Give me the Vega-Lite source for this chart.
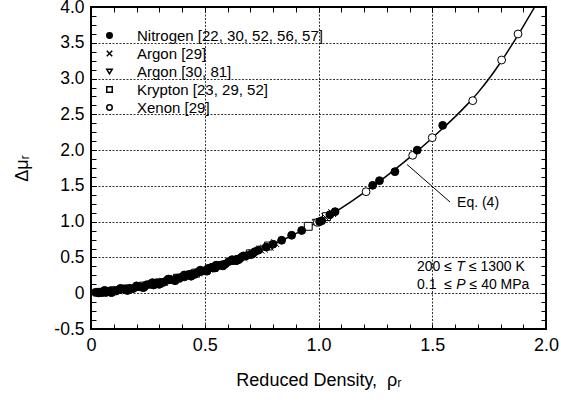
{
  "$schema": "https://vega.github.io/schema/vega-lite/v6.json",
  "autosize": "none",
  "width": 455,
  "height": 322,
  "padding": {"left": 91, "top": 7, "right": 15, "bottom": 74},
  "background": "white",
  "config": {
    "view": {"stroke": "black", "strokeWidth": 2},
    "font": "Liberation Sans",
    "axis": {"labelFont": "Liberation Sans", "titleFont": "Liberation Sans", "labelColor": "black", "titleColor": "black", "titleFontWeight": "normal"}
  },
  "datasets": {
    "curve": [
      {"x": 0, "y": 0}, {"x": 0.05, "y": 0.014}, {"x": 0.1, "y": 0.032}, {"x": 0.15, "y": 0.054}, {"x": 0.2, "y": 0.08},
      {"x": 0.25, "y": 0.11}, {"x": 0.3, "y": 0.144}, {"x": 0.35, "y": 0.182}, {"x": 0.4, "y": 0.224}, {"x": 0.45, "y": 0.27},
      {"x": 0.5, "y": 0.32}, {"x": 0.55, "y": 0.37}, {"x": 0.6, "y": 0.424}, {"x": 0.65, "y": 0.482}, {"x": 0.7, "y": 0.544},
      {"x": 0.75, "y": 0.61}, {"x": 0.8, "y": 0.68}, {"x": 0.85, "y": 0.754}, {"x": 0.9, "y": 0.832}, {"x": 0.95, "y": 0.914},
      {"x": 1.0, "y": 1.0}, {"x": 1.05, "y": 1.092}, {"x": 1.1, "y": 1.19}, {"x": 1.15, "y": 1.295}, {"x": 1.2, "y": 1.405},
      {"x": 1.25, "y": 1.52}, {"x": 1.3, "y": 1.64}, {"x": 1.35, "y": 1.765}, {"x": 1.4, "y": 1.895}, {"x": 1.45, "y": 2.03},
      {"x": 1.5, "y": 2.17}, {"x": 1.55, "y": 2.315}, {"x": 1.6, "y": 2.465}, {"x": 1.65, "y": 2.625}, {"x": 1.7, "y": 2.8},
      {"x": 1.75, "y": 3.0}, {"x": 1.8, "y": 3.225}, {"x": 1.85, "y": 3.47}, {"x": 1.9, "y": 3.73}, {"x": 1.95, "y": 4.0},
      {"x": 2.0, "y": 4.29}
    ],
    "points": [
      {"s": "Krypton [23, 29, 52]", "x": 0.04, "y": 0.012}, {"s": "Krypton [23, 29, 52]", "x": 0.1, "y": 0.035},
      {"s": "Krypton [23, 29, 52]", "x": 0.16, "y": 0.06}, {"s": "Krypton [23, 29, 52]", "x": 0.23, "y": 0.1},
      {"s": "Krypton [23, 29, 52]", "x": 0.3, "y": 0.145}, {"s": "Krypton [23, 29, 52]", "x": 0.38, "y": 0.21},
      {"s": "Krypton [23, 29, 52]", "x": 0.46, "y": 0.28}, {"s": "Krypton [23, 29, 52]", "x": 0.54, "y": 0.36},
      {"s": "Krypton [23, 29, 52]", "x": 0.63, "y": 0.46}, {"s": "Krypton [23, 29, 52]", "x": 0.7, "y": 0.55},
      {"s": "Krypton [23, 29, 52]", "x": 0.78, "y": 0.66}, {"s": "Krypton [23, 29, 52]", "x": 0.955, "y": 0.935},
      {"s": "Krypton [23, 29, 52]", "x": 1.035, "y": 1.07},
      {"s": "Argon [30, 81]", "x": 0.05, "y": 0.02}, {"s": "Argon [30, 81]", "x": 0.15, "y": 0.058},
      {"s": "Argon [30, 81]", "x": 0.25, "y": 0.112}, {"s": "Argon [30, 81]", "x": 0.35, "y": 0.186},
      {"s": "Argon [30, 81]", "x": 0.45, "y": 0.27}, {"s": "Argon [30, 81]", "x": 0.55, "y": 0.372},
      {"s": "Argon [30, 81]", "x": 0.65, "y": 0.48}, {"s": "Argon [30, 81]", "x": 0.75, "y": 0.61},
      {"s": "Argon [30, 81]", "x": 0.99, "y": 0.985},
      {"s": "Argon [29]", "x": 0.03, "y": 0.008}, {"s": "Argon [29]", "x": 0.07, "y": 0.02}, {"s": "Argon [29]", "x": 0.12, "y": 0.04},
      {"s": "Argon [29]", "x": 0.17, "y": 0.066}, {"s": "Argon [29]", "x": 0.22, "y": 0.09}, {"s": "Argon [29]", "x": 0.27, "y": 0.125},
      {"s": "Argon [29]", "x": 0.32, "y": 0.16}, {"s": "Argon [29]", "x": 0.37, "y": 0.198}, {"s": "Argon [29]", "x": 0.42, "y": 0.244},
      {"s": "Argon [29]", "x": 0.47, "y": 0.29}, {"s": "Argon [29]", "x": 0.52, "y": 0.34}, {"s": "Argon [29]", "x": 0.57, "y": 0.393},
      {"s": "Argon [29]", "x": 0.62, "y": 0.448}, {"s": "Argon [29]", "x": 0.67, "y": 0.505}, {"s": "Argon [29]", "x": 0.71, "y": 0.56},
      {"s": "Argon [29]", "x": 0.745, "y": 0.61}, {"s": "Argon [29]", "x": 0.76, "y": 0.625}, {"s": "Argon [29]", "x": 0.785, "y": 0.65},
      {"s": "Argon [29]", "x": 0.81, "y": 0.7}, {"s": "Argon [29]", "x": 1.03, "y": 1.06}, {"s": "Argon [29]", "x": 1.06, "y": 1.12},
      {"s": "Xenon [29]", "x": 0.995, "y": 0.99}, {"s": "Xenon [29]", "x": 1.209, "y": 1.419}, {"s": "Xenon [29]", "x": 1.414, "y": 1.927},
      {"s": "Xenon [29]", "x": 1.5, "y": 2.174}, {"s": "Xenon [29]", "x": 1.678, "y": 2.691}, {"s": "Xenon [29]", "x": 1.805, "y": 3.259},
      {"s": "Xenon [29]", "x": 1.877, "y": 3.623},
      {"s": "Nitrogen [22, 30, 52, 56, 57]", "x": 0.06, "y": 0.04}, {"s": "Nitrogen [22, 30, 52, 56, 57]", "x": 0.13, "y": 0.068},
      {"s": "Nitrogen [22, 30, 52, 56, 57]", "x": 0.2, "y": 0.103}, {"s": "Nitrogen [22, 30, 52, 56, 57]", "x": 0.27, "y": 0.148},
      {"s": "Nitrogen [22, 30, 52, 56, 57]", "x": 0.34, "y": 0.198}, {"s": "Nitrogen [22, 30, 52, 56, 57]", "x": 0.41, "y": 0.255},
      {"s": "Nitrogen [22, 30, 52, 56, 57]", "x": 0.48, "y": 0.322}, {"s": "Nitrogen [22, 30, 52, 56, 57]", "x": 0.55, "y": 0.392},
      {"s": "Nitrogen [22, 30, 52, 56, 57]", "x": 0.62, "y": 0.468}, {"s": "Nitrogen [22, 30, 52, 56, 57]", "x": 0.67, "y": 0.522},
      {"s": "Nitrogen [22, 30, 52, 56, 57]", "x": 0.09, "y": 0.008}, {"s": "Nitrogen [22, 30, 52, 56, 57]", "x": 0.16, "y": 0.038},
      {"s": "Nitrogen [22, 30, 52, 56, 57]", "x": 0.23, "y": 0.078}, {"s": "Nitrogen [22, 30, 52, 56, 57]", "x": 0.3, "y": 0.124},
      {"s": "Nitrogen [22, 30, 52, 56, 57]", "x": 0.37, "y": 0.175}, {"s": "Nitrogen [22, 30, 52, 56, 57]", "x": 0.44, "y": 0.238},
      {"s": "Nitrogen [22, 30, 52, 56, 57]", "x": 0.51, "y": 0.308}, {"s": "Nitrogen [22, 30, 52, 56, 57]", "x": 0.58, "y": 0.382},
      {"s": "Nitrogen [22, 30, 52, 56, 57]", "x": 0.65, "y": 0.47}, {"s": "Nitrogen [22, 30, 52, 56, 57]", "x": 0.71, "y": 0.55},
      {"s": "Nitrogen [22, 30, 52, 56, 57]", "x": 0.02, "y": 0.012}, {"s": "Nitrogen [22, 30, 52, 56, 57]", "x": 0.035, "y": 0.004},
      {"s": "Nitrogen [22, 30, 52, 56, 57]", "x": 0.05, "y": 0.018}, {"s": "Nitrogen [22, 30, 52, 56, 57]", "x": 0.065, "y": 0.01},
      {"s": "Nitrogen [22, 30, 52, 56, 57]", "x": 0.08, "y": 0.03}, {"s": "Nitrogen [22, 30, 52, 56, 57]", "x": 0.095, "y": 0.028},
      {"s": "Nitrogen [22, 30, 52, 56, 57]", "x": 0.11, "y": 0.032}, {"s": "Nitrogen [22, 30, 52, 56, 57]", "x": 0.125, "y": 0.053},
      {"s": "Nitrogen [22, 30, 52, 56, 57]", "x": 0.14, "y": 0.058}, {"s": "Nitrogen [22, 30, 52, 56, 57]", "x": 0.155, "y": 0.049},
      {"s": "Nitrogen [22, 30, 52, 56, 57]", "x": 0.17, "y": 0.068}, {"s": "Nitrogen [22, 30, 52, 56, 57]", "x": 0.185, "y": 0.065},
      {"s": "Nitrogen [22, 30, 52, 56, 57]", "x": 0.2, "y": 0.088}, {"s": "Nitrogen [22, 30, 52, 56, 57]", "x": 0.215, "y": 0.089},
      {"s": "Nitrogen [22, 30, 52, 56, 57]", "x": 0.23, "y": 0.093}, {"s": "Nitrogen [22, 30, 52, 56, 57]", "x": 0.245, "y": 0.119},
      {"s": "Nitrogen [22, 30, 52, 56, 57]", "x": 0.26, "y": 0.124}, {"s": "Nitrogen [22, 30, 52, 56, 57]", "x": 0.275, "y": 0.115},
      {"s": "Nitrogen [22, 30, 52, 56, 57]", "x": 0.29, "y": 0.141}, {"s": "Nitrogen [22, 30, 52, 56, 57]", "x": 0.305, "y": 0.148},
      {"s": "Nitrogen [22, 30, 52, 56, 57]", "x": 0.32, "y": 0.154}, {"s": "Nitrogen [22, 30, 52, 56, 57]", "x": 0.335, "y": 0.182},
      {"s": "Nitrogen [22, 30, 52, 56, 57]", "x": 0.35, "y": 0.19}, {"s": "Nitrogen [22, 30, 52, 56, 57]", "x": 0.365, "y": 0.183},
      {"s": "Nitrogen [22, 30, 52, 56, 57]", "x": 0.38, "y": 0.211}, {"s": "Nitrogen [22, 30, 52, 56, 57]", "x": 0.395, "y": 0.22},
      {"s": "Nitrogen [22, 30, 52, 56, 57]", "x": 0.41, "y": 0.228}, {"s": "Nitrogen [22, 30, 52, 56, 57]", "x": 0.425, "y": 0.259},
      {"s": "Nitrogen [22, 30, 52, 56, 57]", "x": 0.44, "y": 0.269}, {"s": "Nitrogen [22, 30, 52, 56, 57]", "x": 0.455, "y": 0.263},
      {"s": "Nitrogen [22, 30, 52, 56, 57]", "x": 0.47, "y": 0.294}, {"s": "Nitrogen [22, 30, 52, 56, 57]", "x": 0.485, "y": 0.305},
      {"s": "Nitrogen [22, 30, 52, 56, 57]", "x": 0.5, "y": 0.315}, {"s": "Nitrogen [22, 30, 52, 56, 57]", "x": 0.515, "y": 0.347},
      {"s": "Nitrogen [22, 30, 52, 56, 57]", "x": 0.53, "y": 0.358}, {"s": "Nitrogen [22, 30, 52, 56, 57]", "x": 0.545, "y": 0.353},
      {"s": "Nitrogen [22, 30, 52, 56, 57]", "x": 0.56, "y": 0.385}, {"s": "Nitrogen [22, 30, 52, 56, 57]", "x": 0.575, "y": 0.397},
      {"s": "Nitrogen [22, 30, 52, 56, 57]", "x": 0.59, "y": 0.408}, {"s": "Nitrogen [22, 30, 52, 56, 57]", "x": 0.605, "y": 0.442},
      {"s": "Nitrogen [22, 30, 52, 56, 57]", "x": 0.62, "y": 0.455}, {"s": "Nitrogen [22, 30, 52, 56, 57]", "x": 0.64, "y": 0.458},
      {"s": "Nitrogen [22, 30, 52, 56, 57]", "x": 0.66, "y": 0.499}, {"s": "Nitrogen [22, 30, 52, 56, 57]", "x": 0.68, "y": 0.519},
      {"s": "Nitrogen [22, 30, 52, 56, 57]", "x": 0.7, "y": 0.539}, {"s": "Nitrogen [22, 30, 52, 56, 57]", "x": 0.72, "y": 0.58},
      {"s": "Nitrogen [22, 30, 52, 56, 57]", "x": 0.735, "y": 0.6}, {"s": "Nitrogen [22, 30, 52, 56, 57]", "x": 0.77, "y": 0.645},
      {"s": "Nitrogen [22, 30, 52, 56, 57]", "x": 0.8, "y": 0.685}, {"s": "Nitrogen [22, 30, 52, 56, 57]", "x": 0.838, "y": 0.74},
      {"s": "Nitrogen [22, 30, 52, 56, 57]", "x": 0.882, "y": 0.81}, {"s": "Nitrogen [22, 30, 52, 56, 57]", "x": 0.926, "y": 0.877},
      {"s": "Nitrogen [22, 30, 52, 56, 57]", "x": 1.005, "y": 1.0}, {"s": "Nitrogen [22, 30, 52, 56, 57]", "x": 1.014, "y": 1.012},
      {"s": "Nitrogen [22, 30, 52, 56, 57]", "x": 1.05, "y": 1.097}, {"s": "Nitrogen [22, 30, 52, 56, 57]", "x": 1.073, "y": 1.14},
      {"s": "Nitrogen [22, 30, 52, 56, 57]", "x": 1.238, "y": 1.508}, {"s": "Nitrogen [22, 30, 52, 56, 57]", "x": 1.268, "y": 1.573},
      {"s": "Nitrogen [22, 30, 52, 56, 57]", "x": 1.336, "y": 1.699}, {"s": "Nitrogen [22, 30, 52, 56, 57]", "x": 1.434, "y": 2.0},
      {"s": "Nitrogen [22, 30, 52, 56, 57]", "x": 1.546, "y": 2.346}
    ],
    "leader": [{"x": 1.389, "y": 1.8, "x2": 1.578, "y2": 1.275}],
    "regular": [
      {"x": 1.609, "y": 1.26, "t": "Eq. (4)"},
      {"x": 1.433, "y": 0.36, "t": "200 ≤"},
      {"x": 1.661, "y": 0.36, "t": "≤ 1300 K"},
      {"x": 1.433, "y": 0.12, "t": "0.1"},
      {"x": 1.553, "y": 0.12, "t": "≤"},
      {"x": 1.664, "y": 0.12, "t": "≤ 40 MPa"}
    ],
    "italic": [
      {"x": 1.606, "y": 0.36, "t": "T"},
      {"x": 1.606, "y": 0.12, "t": "P"}
    ]
  },
  "resolve": {"axis": {"x": "independent", "y": "independent"}},
  "layer": [
    {
      "data": {"name": "curve"},
      "mark": {"type": "line", "color": "black", "strokeWidth": 1.5, "clip": true, "interpolate": "monotone"},
      "encoding": {
        "x": {"field": "x", "type": "quantitative",
          "scale": {"domain": [0, 2], "nice": false, "zero": false},
          "axis": {
            "orient": "bottom",
            "values": [0, 0.5, 1, 1.5, 2],
            "labelExpr": "datum.value === 0 ? '0' : format(datum.value, '.1f')",
            "labelFontSize": 18, "labelOverlap": false, "labelFlush": false, "labelPadding": 12,
            "tickSize": -5, "tickColor": "black", "tickWidth": 1,
            "domain": false,
            "grid": true, "gridColor": "black", "gridDash": [2, 1.5], "gridWidth": 0.8,
            "title": "Reduced Density,\u00a0 ρᵣ", "titleFontSize": 18, "titlePadding": 17
          }
        },
        "y": {"field": "y", "type": "quantitative",
          "scale": {"domain": [-0.5, 4], "nice": false, "zero": false},
          "axis": {
            "orient": "left",
            "values": [-0.5, 0, 0.5, 1, 1.5, 2, 2.5, 3, 3.5, 4],
            "labelExpr": "datum.value === 0 ? '0' : (datum.value < 0 ? '-0.5' : format(datum.value, '.1f'))",
            "labelFontSize": 17.5, "labelOverlap": false, "labelFlush": false, "labelPadding": 12,
            "tickSize": -5, "tickColor": "black", "tickWidth": 1,
            "domain": false,
            "grid": true, "gridColor": "black", "gridDash": [2, 1.5], "gridWidth": 0.8,
            "title": "Δμᵣ", "titleFontSize": 18, "titlePadding": 22
          }
        }
      }
    },
    {
      "data": {"name": "points"},
      "mark": {"type": "point", "size": 62, "strokeWidth": 1, "opacity": 1},
      "encoding": {
        "x": {"field": "x", "type": "quantitative",
          "axis": {
            "orient": "top",
            "values": [0,0.1,0.2,0.3,0.4,0.5,0.6,0.7,0.8,0.9,1,1.1,1.2,1.3,1.4,1.5,1.6,1.7,1.8,1.9,2],
            "labels": false, "tickSize": -5, "tickColor": "black", "tickWidth": 1, "domain": false, "grid": false, "title": null
          }
        },
        "y": {"field": "y", "type": "quantitative",
          "axis": {
            "orient": "right",
            "values": [-0.5,-0.375,-0.25,-0.125,0,0.125,0.25,0.375,0.5,0.625,0.75,0.875,1,1.125,1.25,1.375,1.5,1.625,1.75,1.875,2,2.125,2.25,2.375,2.5,2.625,2.75,2.875,3,3.125,3.25,3.375,3.5,3.625,3.75,3.875,4],
            "labels": false, "tickSize": -5, "tickColor": "black", "tickWidth": 1, "domain": false, "grid": false, "title": null
          }
        },
        "shape": {"field": "s", "type": "nominal",
          "scale": {"domain": ["Nitrogen [22, 30, 52, 56, 57]", "Argon [29]", "Argon [30, 81]", "Krypton [23, 29, 52]", "Xenon [29]"],
                    "range": ["circle", "M-1,-1L1,1M-1,1L1,-1", "triangle-down", "square", "circle"]},
          "legend": {"orient": "none", "legendX": 11, "legendY": 21, "title": null, "labelFontSize": 15, "labelColor": "black", "labelFont": "Liberation Sans",
                     "symbolSize": 30, "labelOffset": 20, "rowPadding": 2, "padding": 0, "labelLimit": 0,
                     "encode": {"symbols": {"update": {
                       "fill": {"signal": "datum.value === 'Nitrogen [22, 30, 52, 56, 57]' ? 'black' : 'white'"},
                       "stroke": {"value": "black"}, "strokeWidth": {"value": 1}, "opacity": {"value": 1}, "fillOpacity": {"value": 1}, "strokeOpacity": {"value": 1}}}}}
        },
        "fill": {"field": "s", "type": "nominal",
          "scale": {"domain": ["Nitrogen [22, 30, 52, 56, 57]", "Argon [29]", "Argon [30, 81]", "Krypton [23, 29, 52]", "Xenon [29]"],
                    "range": ["black", "transparent", "white", "white", "white"]},
          "legend": null
        },
        "stroke": {"value": "black"}
      }
    },
    {
      "data": {"name": "leader"},
      "mark": {"type": "rule", "color": "black", "strokeWidth": 1},
      "encoding": {
        "x": {"field": "x", "type": "quantitative",
          "axis": {
            "orient": "bottom",
            "values": [0.1,0.2,0.3,0.4,0.6,0.7,0.8,0.9,1.1,1.2,1.3,1.4,1.6,1.7,1.8,1.9],
            "labels": false, "tickSize": -5, "tickColor": "black", "tickWidth": 1, "domain": false, "grid": false, "title": null
          }
        },
        "y": {"field": "y", "type": "quantitative",
          "axis": {
            "orient": "left",
            "values": [-0.375,-0.25,-0.125,0.125,0.25,0.375,0.625,0.75,0.875,1.125,1.25,1.375,1.625,1.75,1.875,2.125,2.25,2.375,2.625,2.75,2.875,3.125,3.25,3.375,3.625,3.75,3.875],
            "labels": false, "tickSize": -5, "tickColor": "black", "tickWidth": 1, "domain": false, "grid": false, "title": null
          }
        },
        "x2": {"field": "x2"},
        "y2": {"field": "y2"}
      }
    },
    {
      "data": {"name": "regular"},
      "mark": {"type": "text", "align": "left", "baseline": "middle", "fontSize": 14, "font": "Liberation Sans", "color": "black"},
      "encoding": {
        "x": {"field": "x", "type": "quantitative", "axis": null},
        "y": {"field": "y", "type": "quantitative", "axis": null},
        "text": {"field": "t"}
      }
    },
    {
      "data": {"name": "italic"},
      "mark": {"type": "text", "align": "left", "baseline": "middle", "fontSize": 14, "font": "Liberation Sans", "fontStyle": "italic", "color": "black"},
      "encoding": {
        "x": {"field": "x", "type": "quantitative", "axis": null},
        "y": {"field": "y", "type": "quantitative", "axis": null},
        "text": {"field": "t"}
      }
    }
  ]
}
